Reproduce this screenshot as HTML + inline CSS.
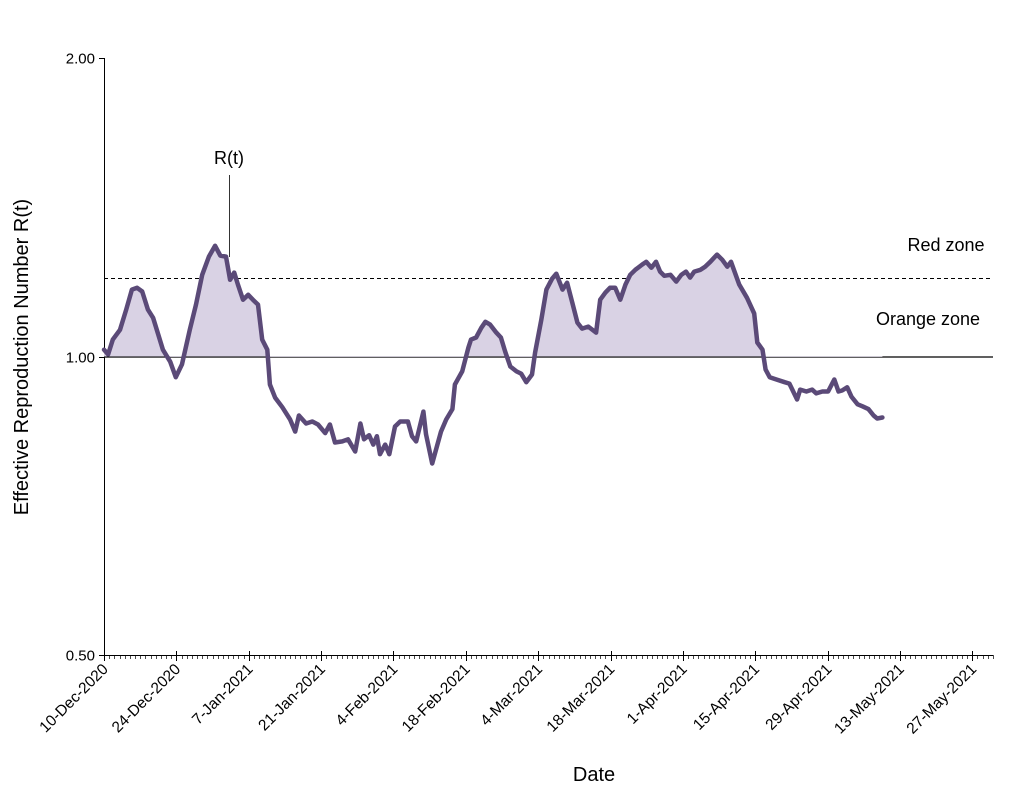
<!DOCTYPE html>
<html><head><meta charset="utf-8"><style>
html,body{margin:0;padding:0;background:#fff;}
svg{display:block;font-family:"Liberation Sans",sans-serif;}
</style></head><body>
<svg width="1024" height="794" viewBox="0 0 1024 794">
<defs><clipPath id="above"><rect x="104" y="0" width="900" height="357"></rect></clipPath></defs>
<g id="axes"></g>
<g id="series"></g>
<text x="946" y="251" font-size="18" text-anchor="middle">Red zone</text>
<text x="928" y="325" font-size="18" text-anchor="middle">Orange zone</text>
<text x="229" y="164" font-size="18" text-anchor="middle">R(t)</text>
<line x1="229.5" y1="175" x2="229.5" y2="257" stroke="#000" stroke-width="0.8"/>
<text x="594" y="781" font-size="20" text-anchor="middle">Date</text>
<text transform="translate(28,357) rotate(-90)" font-size="20" text-anchor="middle">Effective Reproduction Number R(t)</text>
</svg>
<script>
const dayIdx=[0,.8,1.7,3.1,4.3,5.4,6.4,7.4,8.5,9.5,10.5,11.4,12.8,13.9,15.1,16.6,17.8,19.0,20.3,21.5,22.5,23.6,24.4,25.2,25.9,26.9,27.9,28.8,29.8,30.6,31.6,32.1,33.1,34.5,36.0,37.0,37.7,39.1,40.3,41.4,42.8,43.7,44.7,46.1,47.2,48.6,49.6,50.3,51.3,52.1,52.8,53.4,54.4,55.2,56.3,57.3,58.8,59.6,60.4,61.8,62.3,63.5,64.5,65.2,66.2,67.4,67.9,69.3,70.5,71.0,72.0,73.0,73.8,74.7,75.9,76.8,77.6,78.6,79.8,80.7,81.7,82.8,83.4,84.6,85.6,86.7,87.5,88.7,89.6,90.6,91.6,92.5,93.7,95.2,96.0,97.0,97.9,98.9,99.9,100.9,101.8,102.8,104.1,104.9,105.9,106.8,107.6,108.4,109.6,110.7,111.7,112.6,113.4,114.2,115.4,116.3,117.3,118.6,119.6,120.6,121.3,122.9,124.4,125.8,126.4,127.4,128.0,128.8,130.1,131.7,132.6,134.1,134.7,135.9,137.0,137.8,139.0,140.1,141.3,142.1,142.8,143.8,144.6,145.8,146.7,147.9,148.9,149.6,150.6];
const rtValues=[1.016,1.005,1.040,1.064,1.115,1.168,1.173,1.163,1.115,1.094,1.052,1.016,0.988,0.953,0.982,1.064,1.128,1.209,1.261,1.293,1.264,1.261,1.195,1.215,1.182,1.141,1.154,1.141,1.128,1.040,1.016,0.937,0.909,0.889,0.864,0.840,0.872,0.856,0.860,0.854,0.837,0.854,0.819,0.821,0.825,0.802,0.856,0.825,0.833,0.815,0.831,0.797,0.815,0.797,0.850,0.860,0.860,0.831,0.821,0.880,0.835,0.780,0.815,0.840,0.864,0.885,0.937,0.966,1.021,1.040,1.045,1.069,1.084,1.077,1.057,1.045,1.012,0.977,0.966,0.961,0.942,0.959,1.009,1.089,1.168,1.198,1.212,1.168,1.187,1.133,1.082,1.067,1.072,1.057,1.141,1.160,1.173,1.173,1.141,1.182,1.209,1.223,1.238,1.246,1.229,1.246,1.218,1.206,1.209,1.190,1.209,1.218,1.201,1.218,1.223,1.232,1.246,1.267,1.252,1.232,1.246,1.182,1.146,1.105,1.033,1.016,0.970,0.953,0.948,0.942,0.939,0.905,0.926,0.922,0.926,0.918,0.922,0.922,0.948,0.922,0.924,0.931,0.911,0.895,0.891,0.885,0.872,0.866,0.868];
const tickLabels=["10-Dec-2020","24-Dec-2020","7-Jan-2021","21-Jan-2021","4-Feb-2021","18-Feb-2021","4-Mar-2021","18-Mar-2021","1-Apr-2021","15-Apr-2021","29-Apr-2021","13-May-2021","27-May-2021"];
const yTicks=[0.5,1.0,2.0];
const redZone=[1.2];
const totalDays=[172];

const NS="http://www.w3.org/2000/svg";
const X0=104,X1=993,YT=58,YB=655;
const xS=d=>X0+d*(X1-X0)/totalDays[0];
const yS=v=>YB-(Math.log2(v)-Math.log2(0.5))/(2)*(YB-YT);
function mk(tag,attrs,parent){const e=document.createElementNS(NS,tag);for(const k in attrs)e.setAttribute(k,attrs[k]);parent.appendChild(e);return e;}
const ax=document.getElementById('axes'),se=document.getElementById('series');

let e=mk('line',{x1:X0+.5,y1:YT,x2:X0+.5,y2:YB,stroke:'#000','stroke-width':1},ax);


yTicks.forEach(v=>{
 const y=Math.round(yS(v))+.5;
 let t=mk('line',{x1:X0-5,y1:y,x2:X0,y2:y,stroke:'#000'},ax);
 
 
 let l=mk('text',{x:X0-9,y:y+5,'font-size':15,'text-anchor':'end'},ax);
 l.textContent=v.toFixed(2);
 
 
});
e=mk('line',{x1:X0,y1:YB+.5,x2:X1,y2:YB+.5,stroke:'#000'},ax);


for(let d=0;d<=totalDays[0];d++){
 const x=Math.round(xS(d))+.5;
 const major=d%14===0;
 let t=mk('line',{x1:x,y1:major?YB-4:YB,x2:x,y2:YB+(major?6:4),stroke:'#000','stroke-width':major?1:0.7},ax);
 
 
}
tickLabels.forEach((s,i)=>{
 const x=xS(i*14);
 let l=mk('text',{transform:`translate(${x+5},${YB+15}) rotate(-45)`,'font-size':15.5,'text-anchor':'end'},ax);
 l.textContent=s;
 
 
});
e=mk('line',{x1:X0,y1:yS(1)+.5,x2:X1,y2:yS(1)+.5,stroke:'#000','stroke-width':1.2},ax);


e=mk('line',{x1:X0,y1:yS(redZone[0])+.5,x2:X1,y2:yS(redZone[0])+.5,stroke:'#000','stroke-width':1,'stroke-dasharray':'4,3'},ax);



const pts=dayIdx.map((d,i)=>[xS(d),yS(rtValues[i])]);
const lineD='M'+pts.map(p=>p[0].toFixed(1)+','+p[1].toFixed(1)).join('L');
const y1=yS(1);
const areaD=lineD+`L${pts[pts.length-1][0].toFixed(1)},${y1}L${pts[0][0].toFixed(1)},${y1}Z`;
e=mk('path',{d:areaD,fill:'#d9d2e4','clip-path':'url(#above)'},se);


e=mk('path',{d:lineD,fill:'none',stroke:'#5b4a78','stroke-width':4.5,'stroke-linejoin':'round','stroke-linecap':'round'},se);


</script>
</body></html>
